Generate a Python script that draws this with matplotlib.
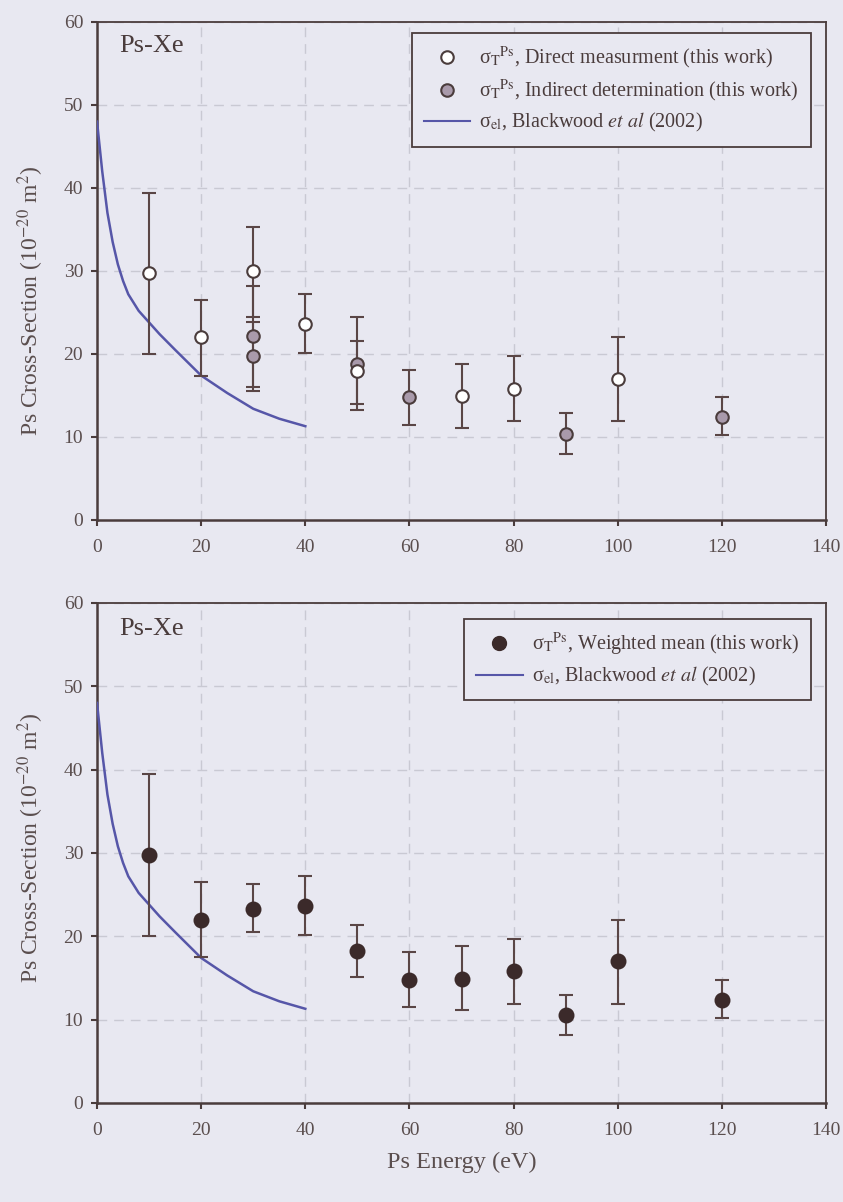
import matplotlib
matplotlib.use("Agg")
import matplotlib.pyplot as plt
from matplotlib.lines import Line2D

# ---- data -------------------------------------------------------------
# Direct measurement (open circles)
direct_E = [10, 20, 30, 40, 50, 70, 80, 100]
direct_sigma = [29.7, 22.0, 30.0, 23.6, 17.9, 14.9, 15.8, 17.0]
direct_lo = [20.0, 17.4, 24.5, 20.1, 14.0, 11.1, 11.9, 11.9]
direct_hi = [39.4, 26.5, 35.3, 27.2, 21.6, 18.8, 19.7, 22.0]

# Indirect determination (grey circles)
indirect_E = [30, 30, 50, 60, 90, 120]
indirect_sigma = [22.2, 19.8, 18.8, 14.8, 10.4, 12.4]
indirect_lo = [16.0, 15.6, 13.2, 11.5, 8.0, 10.2]
indirect_hi = [28.2, 23.9, 24.5, 18.1, 12.9, 14.8]

# Weighted mean (filled circles)
mean_E = [10, 20, 30, 40, 50, 60, 70, 80, 90, 100, 120]
mean_sigma = [29.7, 22.0, 23.3, 23.6, 18.2, 14.8, 14.9, 15.8, 10.5, 17.0, 12.4]
mean_lo = [20.0, 17.5, 20.5, 20.1, 15.1, 11.5, 11.1, 11.9, 8.1, 11.9, 10.2]
mean_hi = [39.5, 26.5, 26.3, 27.2, 21.4, 18.1, 18.8, 19.7, 13.0, 22.0, 14.8]

# Blackwood et al (2002) elastic cross-section
bw_E = [0, 0.5, 1, 2, 3, 4, 5, 6, 8, 10, 12, 15, 20, 25, 30, 35, 40]
bw_sigma = [48.0, 45.0, 42.0, 37.0, 33.5, 30.8, 28.8, 27.2, 25.2, 23.8,
            22.4, 20.5, 17.4, 15.3, 13.4, 12.2, 11.3]

x_ticks = [0, 20, 40, 60, 80, 100, 120, 140]
y_ticks = [0, 10, 20, 30, 40, 50, 60]

# ---- style ------------------------------------------------------------
BG = "#e8e8f1"
INK = "#4a3c3c"
LABEL = "#5a4e4e"
ERR = "#5a4646"
CURVE = "#5656a8"
GREY_FILL = "#a99aab"
DARK_FILL = "#3b2a2a"
GRID = "#c9c9d3"

plt.rcParams["font.family"] = "serif"
plt.rcParams["font.serif"] = ["Liberation Serif", "DejaVu Serif"]
plt.rcParams["mathtext.fontset"] = "stix"

fig = plt.figure(figsize=(8.43, 12.02), dpi=100, facecolor=BG)
ax_top = fig.add_axes([0.1151, 0.5674, 0.8648, 0.4143])
ax_bot = fig.add_axes([0.1151, 0.0824, 0.8648, 0.4160])


def err(vals, lo, hi):
    return [[v - l for v, l in zip(vals, lo)], [h - v for v, h in zip(vals, hi)]]


def style_axes(ax, title_y, ylabel_y):
    ax.set_facecolor(BG)
    ax.set_xlim(0, 140)
    ax.set_ylim(0, 60)
    ax.set_xticks(x_ticks)
    ax.set_yticks(y_ticks)
    ax.grid(True, color=GRID, linestyle=(0, (7, 5)), linewidth=1.0)
    ax.set_axisbelow(True)
    for s in ax.spines.values():
        s.set_color(INK)
        s.set_linewidth(1.3)
    ax.spines["left"].set_linewidth(1.8)
    ax.spines["bottom"].set_linewidth(1.8)
    ax.tick_params(direction="out", length=4, width=1.5, color=INK,
                   labelsize=14, labelcolor=LABEL)
    ax.tick_params(axis="x", pad=10)
    ax.tick_params(axis="y", pad=6)
    ax.set_ylabel("Ps Cross-Section (10$^{-20}$ m$^{2}$)", fontsize=17,
                  color=LABEL)
    ax.yaxis.set_label_coords(-0.070, ylabel_y)
    ax.text(0.03, title_y, "Ps-Xe", transform=ax.transAxes, fontsize=19,
            color=INK, va="center", ha="left")
    ax.plot(bw_E, bw_sigma, color=CURVE, linewidth=1.8, zorder=3)


eb_kw = dict(fmt="o", ecolor=ERR, elinewidth=1.5, capsize=5, capthick=1.5,
             markersize=9, markeredgewidth=1.5, zorder=4)

style_axes(ax_top, 0.952, 0.44)
ax_top.errorbar(indirect_E, indirect_sigma, yerr=err(indirect_sigma, indirect_lo, indirect_hi),
                markerfacecolor=GREY_FILL, markeredgecolor=INK, **eb_kw)
ax_top.errorbar(direct_E, direct_sigma, yerr=err(direct_sigma, direct_lo, direct_hi),
                markerfacecolor="white", markeredgecolor=INK, **eb_kw)

SIG_T = "σ$_{\\mathrm{T}}$$^{\\mathrm{Ps}}$"
lab_direct = SIG_T + ", Direct measurment (this work)"
lab_indirect = SIG_T + ", Indirect determination (this work)"
lab_bw = "σ$_{\\mathrm{el}}$, Blackwood $\\mathit{et\\ al}$ (2002)"
lab_mean = SIG_T + ", Weighted mean (this work)"

h_direct = Line2D([], [], linestyle="none", marker="o", markersize=9,
                  markerfacecolor="white", markeredgecolor=INK, markeredgewidth=1.5)
h_indirect = Line2D([], [], linestyle="none", marker="o", markersize=9,
                    markerfacecolor=GREY_FILL, markeredgecolor=INK, markeredgewidth=1.5)
h_bw = Line2D([], [], color=CURVE, linewidth=1.5)
h_mean = Line2D([], [], linestyle="none", marker="o", markersize=10,
                markerfacecolor=DARK_FILL, markeredgecolor=DARK_FILL)

leg_kw = dict(loc="upper right", fontsize=14.5, frameon=True, fancybox=False,
              edgecolor=INK, facecolor=BG, framealpha=1, handlelength=2.3,
              handletextpad=0.45, labelspacing=0.35, borderpad=0.6,
              labelcolor=INK, borderaxespad=0)

leg1 = ax_top.legend([h_direct, h_indirect, h_bw], [lab_direct, lab_indirect, lab_bw],
                     bbox_to_anchor=(0.979, 0.978), **leg_kw)
leg1.get_frame().set_linewidth(1.3)

style_axes(ax_bot, 0.948, 0.51)
ax_bot.errorbar(mean_E, mean_sigma, yerr=err(mean_sigma, mean_lo, mean_hi),
                markerfacecolor=DARK_FILL, markeredgecolor=DARK_FILL,
                **{**eb_kw, "markersize": 10})
ax_bot.set_xlabel("Ps Energy (eV)", fontsize=17.5, color=LABEL, labelpad=9)
leg2 = ax_bot.legend([h_mean, h_bw], [lab_mean, lab_bw],
                     bbox_to_anchor=(0.979, 0.968), **leg_kw)
leg2.get_frame().set_linewidth(1.3)

fig.savefig("out.png", dpi=100, facecolor=BG)
